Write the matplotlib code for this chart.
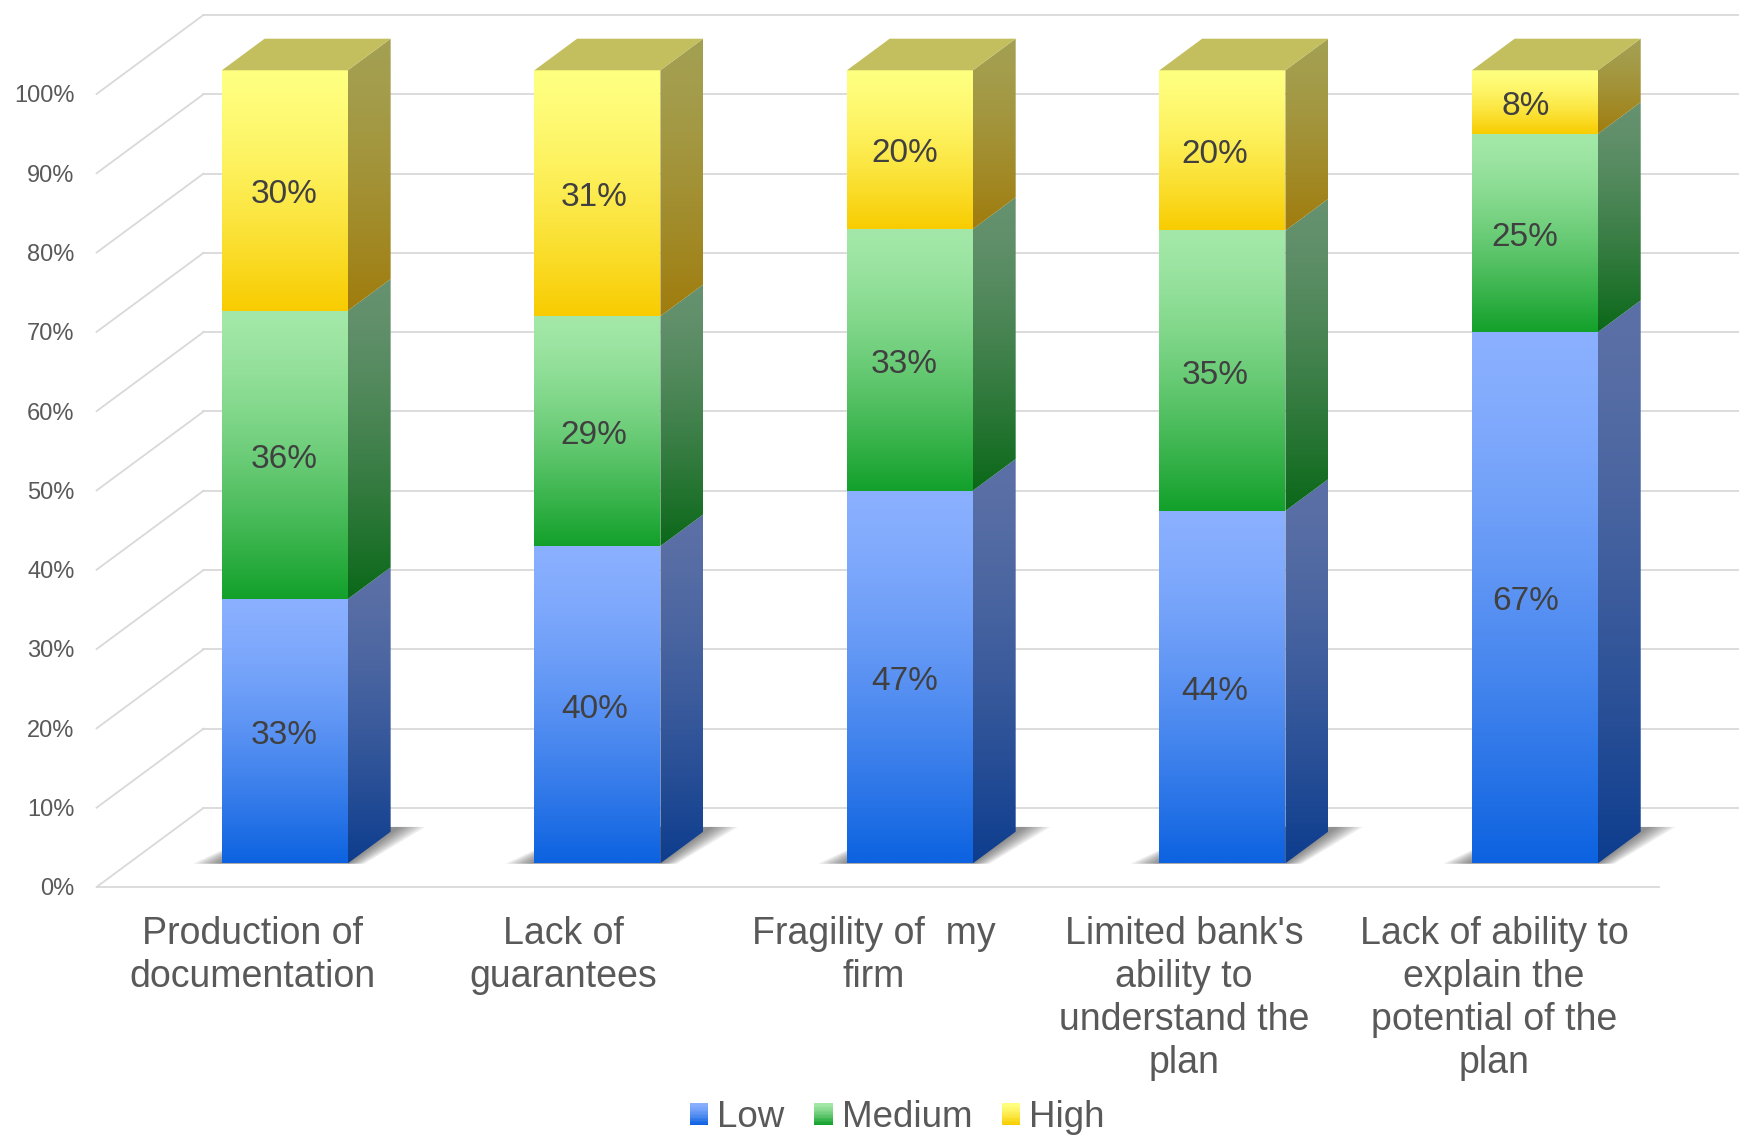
import numpy as np
import matplotlib.pyplot as plt
from matplotlib.patches import Polygon, Rectangle, Patch
from matplotlib.legend_handler import HandlerBase
from matplotlib.colors import to_rgb

plt.rcParams["font.family"] = ["Liberation Sans", "DejaVu Sans"]

categories = [
    "Production of\ndocumentation",
    "Lack of\nguarantees",
    "Fragility of  my\nfirm",
    "Limited bank's\nability to\nunderstand the\nplan",
    "Lack of ability to\nexplain the\npotential of the\nplan",
]
low = [33, 40, 47, 44, 67]
medium = [36, 29, 33, 35, 25]
high = [30, 31, 20, 20, 8]
series_names = ["Low", "Medium", "High"]
yticks = list(range(0, 101, 10))

# front top, front bottom, side top, side bottom
palette = {
    "Low": ("#8ab0ff", "#0c62e0", "#5b70a6", "#0d3d8e"),
    "Medium": ("#a3e8a8", "#12a02a", "#66926f", "#0a6818"),
    "High": ("#ffff80", "#f8cc00", "#a4a052", "#a07c0c"),
}
top_colour = "#c3bf5f"
grid_colour = "#d9d9d9"
text_grey = "#595959"

# oblique projection: depth z (0 = front floor edge, 1 = back wall)
DX, DY = 0.342, 9.96
Z_FRONT, Z_BACK = 0.30, 0.70
HALF = 0.2016
LABEL_SCALE = 0.993   # text positions sit on a slightly tighter pitch


def proj(x, y, z):
    return (x + z * DX, y + z * DY)


def gradient_face(ax, verts, c_top, c_bot, zorder, gamma=1.4):
    poly = Polygon(verts, closed=True, facecolor="none", edgecolor="none")
    ax.add_patch(poly)
    xs = [v[0] for v in verts]
    ys = [v[1] for v in verts]
    t = np.linspace(0, 1, 256) ** gamma
    a, b = np.array(to_rgb(c_top)), np.array(to_rgb(c_bot))
    img = (a[None, :] * (1 - t[:, None]) + b[None, :] * t[:, None])[:, None, :]
    img = np.repeat(img, 2, axis=1)
    im = ax.imshow(img, extent=(min(xs), max(xs), min(ys), max(ys)),
                   origin="upper", aspect="auto", interpolation="bilinear",
                   zorder=zorder)
    im.set_clip_path(poly)


class GradientSquare(HandlerBase):
    def __init__(self, c_top, c_bot):
        super().__init__()
        self.c_top = np.array(to_rgb(c_top))
        self.c_bot = np.array(to_rgb(c_bot))

    def create_artists(self, legend, orig_handle, xdescent, ydescent,
                       width, height, fontsize, trans):
        n = 16
        arts = []
        for k in range(n):
            t = (k / (n - 1)) ** 1.4
            col = self.c_top * (1 - t) + self.c_bot * t
            arts.append(Rectangle((-xdescent, -ydescent + height * (n - 1 - k) / n),
                                  width, height / n + 0.2, facecolor=col,
                                  edgecolor="none", transform=trans))
        return arts


fig = plt.figure(figsize=(17.39, 11.41), dpi=100)
ax = fig.add_axes([0, 0, 1, 1])
ax.axis("off")

n = len(categories)
x_left, x_right = -0.5, n - 0.5

# walls: left diagonals and back gridlines
for p in yticks:
    x0, y0 = proj(x_left, p, 0)
    x1, y1 = proj(x_left, p, 1)
    ax.plot([x0, x1], [y0, y1], color=grid_colour, lw=1.3, zorder=1)
    ax.plot([x1, x_right + DX + 1], [y1, y1], color=grid_colour, lw=1.3, zorder=1)
    ax.text(x_left - 0.07, p - 0.3, f"{p}%", ha="right", va="center",
            fontsize=17, color=text_grey)
ax.plot([x_left, x_right], [0, 0], color=grid_colour, lw=1.3, zorder=1)

values = np.array([low, medium, high], dtype=float)
shares = values / values.sum(axis=0) * 100

for i in range(n):
    xl, xr = i - HALF, i + HALF
    xt = i * LABEL_SCALE

    # soft floor shadow
    for k in range(8):
        e = 0.09 * (k + 1) / 8
        sh = [proj(xl - e, 0, Z_FRONT - 0.005), proj(xr + e * 0.6, 0, Z_FRONT - 0.005),
              proj(xr + e, 0, Z_BACK + 0.06), proj(xl, 0, Z_BACK + 0.06)]
        ax.add_patch(Polygon(sh, closed=True, facecolor="#202020",
                             edgecolor="none", alpha=0.08, zorder=2))

    bottom = 0.0
    for s, name in enumerate(series_names):
        h = shares[s, i]
        top = bottom + h
        ft, fb, st, sb = palette[name]
        side = [proj(xr, bottom, Z_FRONT), proj(xr, top, Z_FRONT),
                proj(xr, top, Z_BACK), proj(xr, bottom, Z_BACK)]
        gradient_face(ax, side, st, sb, 3)
        front = [proj(xl, bottom, Z_FRONT), proj(xr, bottom, Z_FRONT),
                 proj(xr, top, Z_FRONT), proj(xl, top, Z_FRONT)]
        gradient_face(ax, front, ft, fb, 4)
        cx, cy = proj(xt - 0.003, bottom + h / 2, Z_FRONT)
        ax.text(cx, cy - 0.55, f"{int(values[s, i])}%", ha="center", va="center",
                fontsize=24, color="#404040", zorder=10)
        bottom = top

    lid = [proj(xl, bottom, Z_FRONT), proj(xr, bottom, Z_FRONT),
           proj(xr, bottom, Z_BACK), proj(xl, bottom, Z_BACK)]
    ax.add_patch(Polygon(lid, closed=True, facecolor=top_colour,
                         edgecolor="none", zorder=5))

    ax.text(xt, -3.7, categories[i], ha="center", va="top", fontsize=27,
            color=text_grey, linespacing=1.25)

handles = [Patch(label=nm) for nm in series_names]
hmap = {h: GradientSquare(palette[nm][0], palette[nm][1])
        for h, nm in zip(handles, series_names)}
fig.legend(handles=handles, handler_map=hmap, loc="lower center",
           bbox_to_anchor=(0.516, -0.011), ncol=3, frameon=False, fontsize=26.5,
           handlelength=0.5, handleheight=0.55, handletextpad=0.25,
           columnspacing=0.8, borderpad=0, labelcolor=text_grey)

ax.set_xlim(-0.809, 4.7555)
ax.set_ylim(-32.03, 111.85)

fig.savefig("out.png", dpi=100)
